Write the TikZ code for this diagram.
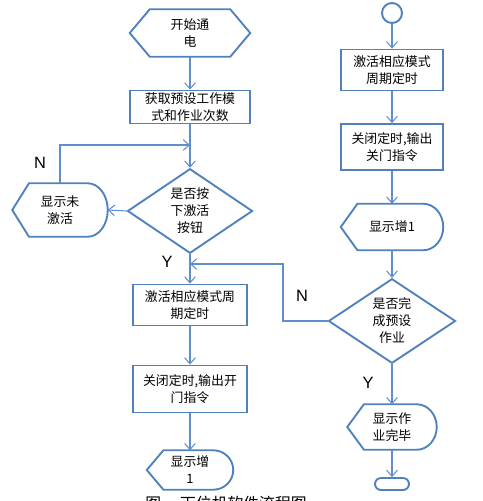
\documentclass[tikz,border=0pt]{standalone}
\usepackage{fontspec}
\setmainfont{Liberation Sans}
\newfontfamily\cjk{Noto Sans CJK SC}
\usetikzlibrary{arrows.meta,calc,positioning,shapes.geometric}
\definecolor{flowblue}{RGB}{79,129,189}
\definecolor{linkblue}{RGB}{96,142,204}
\tikzset{
  flow text/.style={align=center,inner sep=1pt,
    font=\cjk\fontsize{11}{14.5}\selectfont},
  flow box/.style={flow text,rectangle,draw=flowblue,line width=1.6pt,
    fill=white},
  flow decision/.style={flow text,diamond,draw=flowblue,line width=1.6pt,
    fill=white,inner sep=0pt},
  flow display/.style={flow text,rectangle,draw=none},
  flow outline/.style={draw=flowblue,line width=1.6pt,line join=miter},
  flow edge/.style={-{Straight Barb[length=1.8mm,width=3.2mm]},
    draw=linkblue,line width=0.9pt},
  flow branch/.style={font=\fontsize{14}{16}\selectfont}
}
% display symbol: pointed on the left, rounded on the right
\newcommand{\displayoutline}[1]{%
  \draw[flow outline] let \p1=(#1.north east), \p2=(#1.south east),
    \n1={0.5*(\y1-\y2)} in
    ([xshift=5mm]#1.north west) -- ([xshift=-6mm]#1.north east)
    arc[start angle=90,end angle=-90,x radius=6mm,y radius=\n1]
    -- ([xshift=5mm]#1.south west) -- (#1.west) -- cycle;}
\begin{document}
\begin{tikzpicture}[x=0.03cm,y=-0.03cm]
  \useasboundingbox (0,0) rectangle (483,501);
  % left column
  \node[flow display,minimum width=3.6cm,minimum height=1.41cm]
    (poweron) at (190,33) {开始通\\电};
  \draw[flow outline] ([xshift=6mm]poweron.north west)
    -- ([xshift=-6mm]poweron.north east) -- (poweron.east)
    -- ([xshift=-6mm]poweron.south east) -- ([xshift=6mm]poweron.south west)
    -- (poweron.west) -- cycle;
  \node[flow box,minimum width=3.6cm,minimum height=0.99cm]
    (getmode) at (190,107) {获取预设工作模\\式和作业次数};
  \node[flow decision,minimum width=3.75cm,minimum height=2.37cm]
    (checkbtn) at (190,211) {是否按\\下激活\\按钮};
  \node[flow display,minimum width=2.85cm,minimum height=1.59cm]
    (notact) at (60,210) {显示未\\激活};
  \displayoutline{notact}
  \node[flow box,minimum width=3.42cm,minimum height=1.23cm]
    (actleft) at (190,305) {激活相应模式周\\期定时};
  \node[flow box,minimum width=3.42cm,minimum height=1.41cm]
    (openleft) at (190,389) {关闭定时,输出开\\门指令};
  \node[flow display,minimum width=2.58cm,minimum height=1.17cm]
    (incleft) at (190,470) {显示增\\1};
  \displayoutline{incleft}
  % right column
  \node[circle,draw=flowblue,line width=1.6pt,minimum size=0.6cm,
    inner sep=0pt] (cycstart) at (392,13) {};
  \node[flow box,minimum width=3.06cm,minimum height=1.23cm]
    (actright) at (392,70) {激活相应模式\\周期定时};
  \node[flow box,minimum width=3.06cm,minimum height=1.38cm]
    (closeright) at (392,147) {关闭定时,输出\\关门指令};
  \node[flow display,minimum width=3.06cm,minimum height=1.38cm]
    (incright) at (392,227) {显示增1};
  \displayoutline{incright}
  \node[flow decision,minimum width=3.81cm,minimum height=2.16cm]
    (checkdone) at (392,321) {是否完\\成预设\\作业};
  \node[flow display,minimum width=2.67cm,minimum height=1.35cm]
    (showdone) at (392,427) {显示作\\业完毕};
  \displayoutline{showdone}
  \node[rectangle,rounded corners=0.18cm,draw=flowblue,line width=1.6pt,
    minimum width=1.02cm,minimum height=0.36cm,inner sep=0pt]
    (finish) at (392,484) {};
  % branch labels
  \node[flow branch] (labnoleft) at (40,163) {N};
  \node[flow branch] (labyesleft) at (167,262) {Y};
  \node[flow branch] (labnoright) at (302,296) {N};
  \node[flow branch] (labyesright) at (368,383) {Y};
  % connectors
  \coordinate (loopin) at (190,145);
  \coordinate (rejoin) at (190,264);
  \coordinate (backturn) at (283,264);
  \draw[flow edge] (poweron) -- (getmode);
  \draw[flow edge] (getmode) -- (checkbtn);
  \draw[flow edge] (checkbtn.west) -- (notact.east);
  \draw[flow edge] (notact.north) |- (loopin);
  \draw[flow edge] (checkbtn) -- (actleft);
  \draw[flow edge] (actleft) -- (openleft);
  \draw[flow edge] (openleft) -- (incleft);
  \draw[flow edge] (cycstart) -- (actright);
  \draw[flow edge] (actright) -- (closeright);
  \draw[flow edge] (closeright) -- (incright);
  \draw[flow edge] (incright) -- (checkdone);
  \draw[flow edge] (checkdone) -- (showdone);
  \draw[flow edge] (showdone) -- (finish);
  \draw[flow edge] (checkdone.west) -| (backturn) -- (rejoin);
  % caption, cut off by the page edge
  \node[font=\cjk\fontsize{13.5}{16}\selectfont] (caption) at (226,503)
    {图\hspace{1.2em}下位机软件流程图};
\end{tikzpicture}
\end{document}
